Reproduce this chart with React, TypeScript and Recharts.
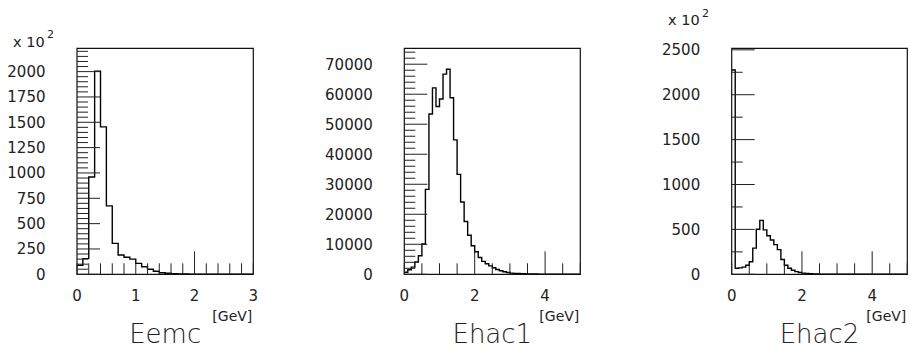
import React from 'react';
import { LineChart, Line, XAxis, YAxis, ReferenceArea } from 'recharts';

// ---------- data ----------
const eemcEdges = [0, 0.1, 0.2, 0.3, 0.4, 0.5, 0.6, 0.7, 0.8, 0.9, 1.0, 1.1, 1.2, 1.3, 1.4, 1.5, 1.6, 1.7, 1.8, 1.9, 2.0, 2.1, 2.2, 2.3, 2.4, 2.5, 2.6, 2.7, 2.8, 2.9, 3.0];
// counts in units of 10^2
const eemcCounts = [90, 155, 960, 2005, 1455, 675, 305, 190, 168, 150, 108, 75, 50, 30, 16, 10, 6, 4, 3, 2, 2, 1, 1, 1, 1, 0.5, 0.5, 0.5, 0.3, 0.3];

const ehacEdges = [0, 0.1, 0.2, 0.3, 0.4, 0.5, 0.6, 0.7, 0.8, 0.9, 1.0, 1.1, 1.2, 1.3, 1.4, 1.5, 1.6, 1.7, 1.8, 1.9, 2.0, 2.1, 2.2, 2.3, 2.4, 2.5, 2.6, 2.7, 2.8, 2.9, 3.0, 3.1, 3.2, 3.3, 3.4, 3.5, 3.6, 3.7, 3.8, 3.9, 4.0, 4.1, 4.2, 4.3, 4.4, 4.5, 4.6, 4.7, 4.8, 4.9, 5.0];
const ehac1Counts = [700, 1500, 2400, 4100, 6200, 10100, 28300, 53400, 62100, 55900, 58400, 66700, 68300, 58800, 44800, 33300, 24100, 17600, 13000, 9500, 7500, 5600, 4300, 3500, 2800, 2200, 1600, 1200, 850, 600, 400, 320, 260, 210, 170, 140, 110, 90, 75, 60, 50, 40, 35, 30, 25, 20, 18, 15, 12, 10];
// counts in units of 10^2
const ehac2Counts = [2275, 68, 72, 80, 100, 140, 292, 502, 601, 495, 430, 382, 330, 275, 165, 100, 68, 45, 30, 20, 13, 9, 6, 4, 3, 2.5, 2, 2, 1.5, 1.5, 1, 1, 1, 1, 0.8, 0.8, 0.6, 0.6, 0.5, 0.5, 0.4, 0.4, 0.3, 0.3, 0.3, 0.2, 0.2, 0.2, 0.2, 0.2];

// ---------- ticks ----------
const eemcYTicks = [0, 50, 100, 150, 200, 250, 300, 350, 400, 450, 500, 550, 600, 650, 700, 750, 800, 850, 900, 950, 1000, 1050, 1100, 1150, 1200, 1250, 1300, 1350, 1400, 1450, 1500, 1550, 1600, 1650, 1700, 1750, 1800, 1850, 1900, 1950, 2000, 2050, 2100, 2150, 2200];
const eemcYLabels = [0, 250, 500, 750, 1000, 1250, 1500, 1750, 2000];
const eemcXTicks = [0, 0.2, 0.4, 0.6, 0.8, 1.0, 1.2, 1.4, 1.6, 1.8, 2.0, 2.2, 2.4, 2.6, 2.8, 3.0];
const eemcXLabels = [0, 1, 2, 3];
const eemcXLong = [2];

const ehac1YTicks = [0, 2000, 4000, 6000, 8000, 10000, 12000, 14000, 16000, 18000, 20000, 22000, 24000, 26000, 28000, 30000, 32000, 34000, 36000, 38000, 40000, 42000, 44000, 46000, 48000, 50000, 52000, 54000, 56000, 58000, 60000, 62000, 64000, 66000, 68000, 70000, 72000, 74000];
const ehac1YLabels = [0, 10000, 20000, 30000, 40000, 50000, 60000, 70000];

const ehac2YTicks = [0, 250, 500, 750, 1000, 1250, 1500, 1750, 2000, 2250, 2500];
const ehac2YLabels = [0, 500, 1000, 1500, 2000, 2500];

const ehacXTicks = [0, 0.5, 1.0, 1.5, 2.0, 2.5, 3.0, 3.5, 4.0, 4.5, 5.0];
const ehacXLabels = [0, 2, 4];
const ehacXLong = [2, 4];

const FONT = "'DejaVu Sans', 'Liberation Sans', sans-serif";
const CHART_H = 353;
const FRAME_TOP = 48.3;
const FRAME_BOTTOM = 274.3;
const X_AXIS_H = 30;
const Y_AXIS_W = 60;

const has = (arr: number[], v: number) => arr.some((a) => Math.abs(a - v) < 1e-6);

function histData(edges: number[], counts: number[]) {
  return edges.map((x, i) => ({ x, v: counts[Math.min(i, counts.length - 1)] }));
}

type PanelProps = {
  left: number;
  width: number;
  frameLeft: number;
  frameRight: number;
  edges: number[];
  counts: number[];
  xMax: number;
  yMax: number;
  yTicks: number[];
  yLabels: number[];
  xTicks: number[];
  xLabels: number[];
  xLong: number[];
  title: string;
  mult?: { x: number; y: number };
};

function Panel(p: PanelProps) {
  const data = histData(p.edges, p.counts);
  const fl = p.frameLeft;
  const YTick = (props: any) => {
    const { y, payload } = props;
    const v = payload.value;
    const major = has(p.yLabels, v);
    return (
      <g>
        <line x1={fl} x2={fl + (major ? 23 : 11)} y1={y} y2={y} stroke="#222" strokeWidth={1} />
        {major && (
          <text x={fl - 31.5} y={y} dy={5.3} textAnchor="end" fontFamily={FONT} fontSize={15} fill="#222">
            {v}
          </text>
        )}
      </g>
    );
  };
  const XTick = (props: any) => {
    const { x, payload } = props;
    const v = payload.value;
    const long = has(p.xLong, v);
    return (
      <g>
        <line x1={x} x2={x} y1={FRAME_BOTTOM} y2={FRAME_BOTTOM - (long ? 23 : 11)} stroke="#222" strokeWidth={1} />
        {has(p.xLabels, v) && (
          <text x={x} y={300.5} textAnchor="middle" fontFamily={FONT} fontSize={15} fill="#222">
            {v}
          </text>
        )}
      </g>
    );
  };
  const cx = (p.frameLeft + p.frameRight) / 2;
  return (
    <div style={{ position: 'absolute', left: p.left, top: 0, width: p.width, height: CHART_H }}>
      <LineChart
        width={p.width}
        height={CHART_H}
        data={data}
        margin={{
          top: FRAME_TOP,
          bottom: CHART_H - FRAME_BOTTOM - X_AXIS_H,
          left: p.frameLeft - Y_AXIS_W,
          right: p.width - p.frameRight,
        }}
      >
        <XAxis
          type="number"
          dataKey="x"
          domain={[0, p.xMax]}
          ticks={p.xTicks}
          interval={0}
          height={X_AXIS_H}
          axisLine={false}
          tickLine={false}
          tick={XTick}
          allowDataOverflow
        />
        <YAxis
          type="number"
          domain={[0, p.yMax]}
          ticks={p.yTicks}
          interval={0}
          width={Y_AXIS_W}
          axisLine={false}
          tickLine={false}
          tick={YTick}
          allowDataOverflow
        />
        <ReferenceArea x1={0} x2={p.xMax} y1={0} y2={p.yMax} fill="none" fillOpacity={0} stroke="#111" strokeWidth={1.2} />
        <Line
          type="stepAfter"
          dataKey="v"
          stroke="#000"
          strokeWidth={1.4}
          dot={false}
          activeDot={false}
          isAnimationActive={false}
        />
      </LineChart>
      <svg width={p.width} height={CHART_H} style={{ position: 'absolute', left: 0, top: 0, pointerEvents: 'none' }}>
        <text x={p.frameRight - 1} y={321} textAnchor="end" fontFamily={FONT} fontSize={14} fill="#222">
          [GeV]
        </text>
        <text x={cx} y={343} textAnchor="middle" fontFamily={FONT} fontSize={26} fontWeight={200} fill="#222">
          {p.title}
        </text>
        {p.mult && (
          <g fontFamily={FONT} fill="#222">
            <text x={p.mult.x} y={p.mult.y} fontSize={14.5}>
              x 10
            </text>
            <text x={p.mult.x + 34} y={p.mult.y - 8.5} fontSize={11}>
              2
            </text>
          </g>
        )}
      </svg>
    </div>
  );
}

export default function App() {
  return (
    <div style={{ position: 'absolute', left: 0, top: 0, width: 911, height: 353, background: '#fff', overflow: 'hidden' }}>
      <Panel
        left={0}
        width={300}
        frameLeft={77}
        frameRight={253.3}
        edges={eemcEdges}
        counts={eemcCounts}
        xMax={3}
        yMax={2230}
        yTicks={eemcYTicks}
        yLabels={eemcYLabels}
        xTicks={eemcXTicks}
        xLabels={eemcXLabels}
        xLong={eemcXLong}
        title="Eemc"
        mult={{ x: 13, y: 46.7 }}
      />
      <Panel
        left={300}
        width={300}
        frameLeft={104.3}
        frameRight={280.3}
        edges={ehacEdges}
        counts={ehac1Counts}
        xMax={5}
        yMax={75300}
        yTicks={ehac1YTicks}
        yLabels={ehac1YLabels}
        xTicks={ehacXTicks}
        xLabels={ehacXLabels}
        xLong={ehacXLong}
        title="Ehac1"
      />
      <Panel
        left={600}
        width={311}
        frameLeft={131.7}
        frameRight={307.3}
        edges={ehacEdges}
        counts={ehac2Counts}
        xMax={5}
        yMax={2517}
        yTicks={ehac2YTicks}
        yLabels={ehac2YLabels}
        xTicks={ehacXTicks}
        xLabels={ehacXLabels}
        xLong={ehacXLong}
        title="Ehac2"
        mult={{ x: 68, y: 25 }}
      />
    </div>
  );
}
